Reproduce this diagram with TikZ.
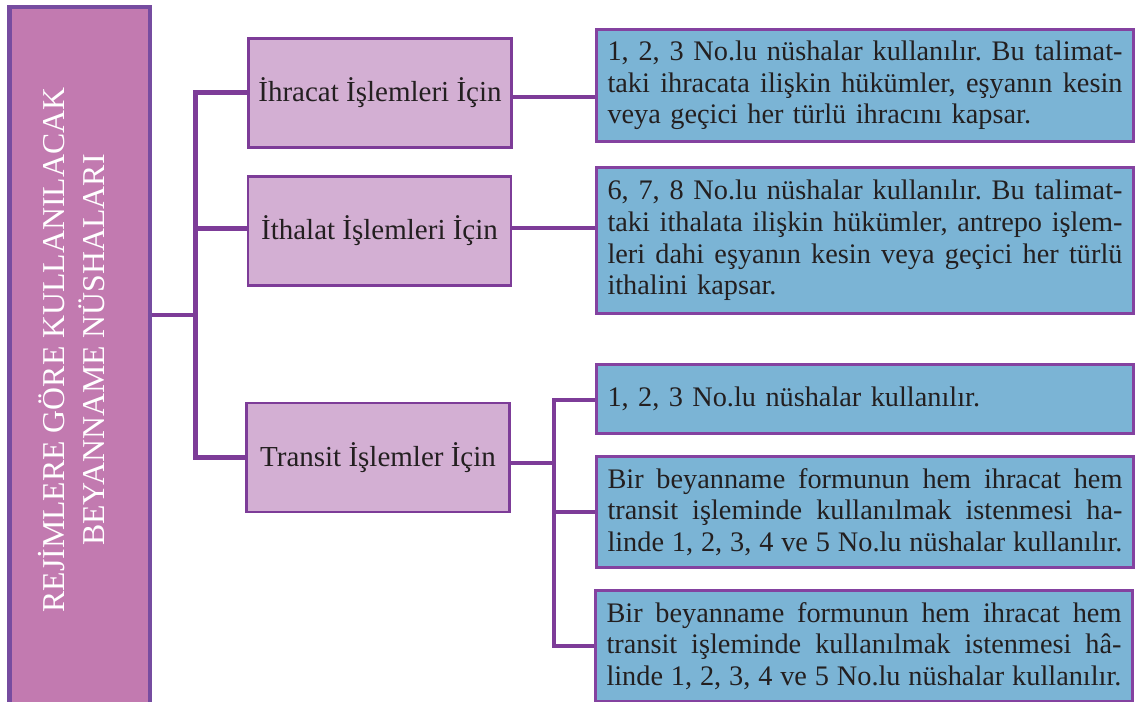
\documentclass[tikz,border=0pt]{standalone}
\usepackage{fontspec}
\setmainfont{Liberation Serif}
\frenchspacing
\definecolor{rootfill}{RGB}{194,122,176}
\definecolor{rootline}{RGB}{118,76,160}
\definecolor{midfill}{RGB}{211,175,211}
\definecolor{midline}{RGB}{125,60,152}
\definecolor{rfill}{RGB}{123,180,213}
\definecolor{rline}{RGB}{132,66,160}
\definecolor{connc}{RGB}{125,60,152}
\definecolor{txt}{RGB}{35,31,32}
\newcommand\jl[1]{\leavevmode\hbox to 515pt{\spaceskip=0.25em plus 1fil minus 0.12em\relax\xspaceskip=\spaceskip #1}}
\begin{document}
\begin{tikzpicture}[x=1pt,y=-1pt,
  rootbox/.style={draw=rootline, fill=rootfill, line width=4.5pt, minimum width=140.5pt, minimum height=712.75pt, inner sep=0pt},
  rootlabel/.style={rotate=90, align=center, text=white, inner sep=0pt, font=\fontsize{31.8}{40}\selectfont},
  midbox/.style={draw=midline, fill=midfill, line width=2.8pt, minimum width=263pt, minimum height=109pt, inner sep=0pt, text=txt, font=\fontsize{29}{32}\selectfont},
  rbox/.style={draw=rline, fill=rfill, line width=2.8pt, text width=515pt, inner xsep=11.3pt, inner ysep=0pt, align=left, text=txt, font=\fontsize{28.3}{31.7}\selectfont},
  conn/.style={draw=connc, line width=4.5pt, line join=miter}]
\useasboundingbox (0,0) rectangle (1137,701);
\clip (0,0) rectangle (1137,701);

% root
\node[rootbox] (root) at (79.5,363.6) {};
\node[rootlabel] (rl) at (71.5,350) {REJİMLERE GÖRE KULLANILACAK\\BEYANNAME NÜSHALARI};

% middle boxes
\node[midbox] (ihr) at (380,93) {İhracat İşlemleri İçin};
\node[midbox] (ith) at (379.5,231) {İthalat İşlemleri İçin};
\node[midbox] (tr) at (378,457.5) {Transit İşlemler İçin};

% right boxes
\node[rbox, minimum height=112pt] (r1) at (865,85.5)
  {\jl{1, 2, 3 No.lu nüshalar kullanılır. Bu talimat-}\\
   \jl{taki ihracata ilişkin hükümler, eşyanın kesin}\\
   veya geçici her türlü ihracını kapsar.};
\node[rbox, minimum height=146pt] (r2) at (865,240.5)
  {\jl{6, 7, 8 No.lu nüshalar kullanılır. Bu talimat-}\\
   \jl{taki ithalata ilişkin hükümler, antrepo işlem-}\\
   \jl{leri dahi eşyanın kesin veya geçici her türlü}\\
   ithalini kapsar.};
\node[rbox, minimum height=69pt] (r3) at (865,399)
  {1, 2, 3 No.lu nüshalar kullanılır.};
\node[rbox, minimum height=111pt] (r4) at (865,512)
  {\jl{Bir beyanname formunun hem ihracat hem}\\
   \jl{transit işleminde kullanılmak istenmesi ha-}\\
   \jl{linde 1, 2, 3, 4 ve 5 No.lu nüshalar kullanılır.}};
\node[rbox, minimum height=111pt] (r5) at (864,646)
  {\jl{Bir beyanname formunun hem ihracat hem}\\
   \jl{transit işleminde kullanılmak istenmesi hâ-}\\
   \jl{linde 1, 2, 3, 4 ve 5 No.lu nüshalar kullanılır.}};

% junction coordinates
\coordinate (jr) at (195.5,315);
\coordinate (j1) at (195.5,92.5);
\coordinate (j2) at (195.5,228.5);
\coordinate (j3) at (195.5,457.5);
\coordinate (y1) at (0,97);
\coordinate (y2) at (0,228);
\coordinate (k0) at (554,463);
\coordinate (k3) at (554,400);
\coordinate (k4) at (554,512);
\coordinate (k5) at (554,646);

% connectors
\draw[conn] (root.east |- jr) -- (jr);
\draw[conn] (ihr.west |- j1) -- (j1) -- (j3) -- (tr.west |- j3);
\draw[conn] (j2) -- (ith.west |- j2);
\draw[conn] (ihr.east |- y1) -- (r1.west |- y1);
\draw[conn] (ith.east |- y2) -- (r2.west |- y2);
\draw[conn] (tr.east |- k0) -- (k0);
\draw[conn] (r3.west |- k3) -- (k3) -- (k5) -- (r5.west |- k5);
\draw[conn] (k4) -- (r4.west |- k4);
\end{tikzpicture}
\end{document}
